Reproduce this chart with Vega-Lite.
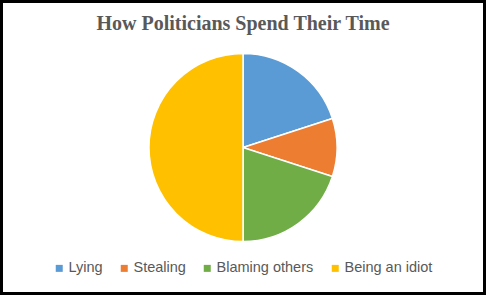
{
  "$schema": "https://vega.github.io/schema/vega-lite/v6.json",
  "width": 486,
  "height": 295,
  "autosize": "none",
  "padding": 0,
  "background": "white",
  "title": {
    "text": "How Politicians Spend Their Time",
    "orient": "top",
    "anchor": "middle",
    "frame": "group",
    "offset": -37,
    "font": "Liberation Serif",
    "fontSize": 20,
    "fontWeight": "bold",
    "color": "#595959"
  },
  "data": {
    "values": [
      {"activity": "Lying", "share": 20, "idx": 1},
      {"activity": "Stealing", "share": 10, "idx": 2},
      {"activity": "Blaming others", "share": 20, "idx": 3},
      {"activity": "Being an idiot", "share": 50, "idx": 4}
    ]
  },
  "layer": [
    {
      "mark": {"type": "arc", "outerRadius": 94, "stroke": "white", "strokeWidth": 1.5},
      "encoding": {
        "theta": {"field": "share", "type": "quantitative", "stack": true},
        "order": {"field": "idx", "type": "quantitative"},
        "color": {
          "field": "activity",
          "type": "nominal",
          "sort": ["Lying", "Stealing", "Blaming others", "Being an idiot"],
          "scale": {
            "domain": ["Lying", "Stealing", "Blaming others", "Being an idiot"],
            "range": ["#5B9BD5", "#ED7D31", "#70AD47", "#FFC000"]
          },
          "legend": {
            "title": null,
            "orient": "none",
            "direction": "horizontal",
            "legendX": 52,
            "legendY": 261,
            "symbolType": "square",
            "symbolSize": 49,
            "symbolStrokeWidth": 0,
            "labelFont": "Liberation Sans",
            "labelFontSize": 14.5,
            "labelColor": "#595959",
            "labelOffset": 2,
            "columnPadding": 14
          }
        }
      }
    },
    {
      "data": {"values": [{"frame": 1}]},
      "mark": {"type": "rect", "fill": null, "stroke": "black", "strokeWidth": 6},
      "encoding": {
        "x": {"value": 0},
        "x2": {"value": "width"},
        "y": {"value": 0},
        "y2": {"value": "height"}
      }
    }
  ]
}
